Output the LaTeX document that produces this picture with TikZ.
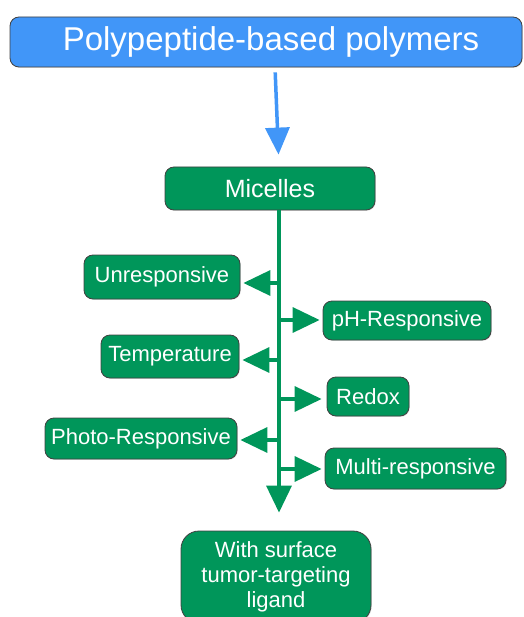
\documentclass[tikz,border=0pt]{standalone}
\usepackage{fontspec}
\setmainfont{Liberation Sans}
\usetikzlibrary{arrows.meta, positioning, shadows}
\definecolor{polyblue}{RGB}{65,150,248}
\definecolor{micgreen}{RGB}{0,150,90}

\begin{document}
\begin{tikzpicture}[x=1pt, y=-1pt, font=\fontsize{22}{25}\selectfont,
    box/.style={draw=black!75, line width=0.8pt, rounded corners=9pt, fill=micgreen,
      text=white, inner sep=0pt, align=center,
      drop shadow={opacity=0.25, shadow xshift=0.8pt, shadow yshift=-0.8pt}},
    branch/.style={draw=micgreen, line width=3.5pt, -{Triangle[length=27pt, width=25pt]}}]
    \clip (0,0) rectangle (523,617);

    % source and first level
    \node[box, fill=polyblue, minimum width=512pt, minimum height=50pt,
          font=\fontsize{33}{36}\selectfont] (poly) at (266,42) {\hspace*{10pt}Polypeptide-based polymers};
    \node[box, minimum width=210pt, minimum height=43pt,
          font=\fontsize{25}{28}\selectfont] (mic) at (270,188.5) {Micelles};

    % micelle types
    \node[box, minimum width=156pt, minimum height=44pt] (unresp) at (162,277)   {Unresponsive};
    \node[box, minimum width=168pt, minimum height=39pt] (ph)     at (407,320.5) {pH-Responsive};
    \node[box, minimum width=138pt, minimum height=43pt] (temp)   at (170,356.5) {Temperature};
    \node[box, minimum width=82pt,  minimum height=39pt] (redox)  at (368,396.5) {Redox};
    \node[box, minimum width=192pt, minimum height=41pt] (photo)  at (141,438.5) {Photo-Responsive};
    \node[box, minimum width=181pt, minimum height=41pt] (multi)  at (415.5,468.5) {Multi-responsive};
    \node[box, rounded corners=18pt, minimum width=190pt, minimum height=92pt]
                                                          (ligand) at (276,577) {With surface\\tumor-targeting\\ligand};

    % connectors
    \coordinate (feed)  at (275,0);
    \coordinate (spine) at (279,0);
    \draw[polyblue, line width=3.5pt, -{Triangle[length=27pt, width=24pt]},
          shorten <=5pt, shorten >=12pt] (poly.south -| feed) -- (mic.north -| spine);
    \draw[branch, shorten >=18pt] (mic.south -| spine) -- (ligand.north -| spine);

    \coordinate (b1) at (279,283);
    \coordinate (b2) at (279,320);
    \coordinate (b3) at (279,360);
    \coordinate (b4) at (279,399);
    \coordinate (b5) at (279,440);
    \coordinate (b6) at (279,469);
    \draw[branch, shorten >=3pt] (b1) -- (b1 -| unresp.east);
    \draw[branch, shorten >=3pt] (b2) -- (b2 -| ph.west);
    \draw[branch, shorten >=3pt] (b3) -- (b3 -| temp.east);
    \draw[branch, shorten >=5pt] (b4) -- (b4 -| redox.west);
    \draw[branch, shorten >=3pt] (b5) -- (b5 -| photo.east);
    \draw[branch, shorten >=3pt] (b6) -- (b6 -| multi.west);
\end{tikzpicture}
\end{document}
